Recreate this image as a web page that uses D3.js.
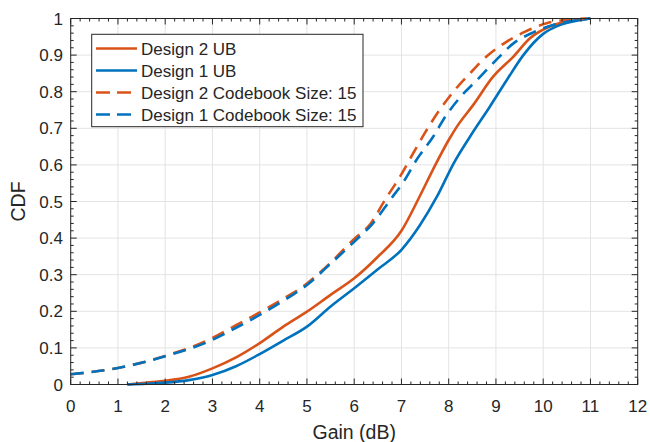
<!DOCTYPE html>
<html>
<head>
<meta charset="utf-8">
<script src="https://cdn.jsdelivr.net/npm/d3@7"></script>
<style>
body { margin: 0; background: #fff; }
svg text { font-family: "Liberation Sans", Arial, sans-serif; fill: #262626; }
</style>
</head>
<body>
<svg id="chart" width="650" height="442"></svg>
<script>
// tick labels
var xTicks = [0, 1, 2, 3, 4, 5, 6, 7, 8, 9, 10, 11, 12];
var yTicks = [0, 0.1, 0.2, 0.3, 0.4, 0.5, 0.6, 0.7, 0.8, 0.9, 1];

// Design 2 UB
var d2ubX = [1.2, 1.6, 2, 2.5, 3, 3.5, 4, 4.5, 5, 5.5, 6, 6.5, 7, 7.39, 7.67, 8, 8.17, 8.52, 8.94, 9.37, 9.72, 10.14, 10.63, 11];
var d2ubY = [0, 0.005, 0.01, 0.021, 0.044, 0.074, 0.113, 0.158, 0.199, 0.245, 0.29, 0.349, 0.42, 0.515, 0.588, 0.668, 0.704, 0.764, 0.841, 0.896, 0.946, 0.978, 0.994, 1];
// Design 1 UB
var d1ubX = [1.2, 1.6, 2, 2.5, 3, 3.5, 4, 4.5, 5, 5.5, 6, 6.5, 7, 7.39, 7.75, 8.1, 8.45, 8.87, 9.23, 9.58, 10, 10.35, 10.77, 11];
var d1ubY = [0, 0.002, 0.005, 0.012, 0.026, 0.05, 0.083, 0.12, 0.158, 0.213, 0.263, 0.315, 0.368, 0.435, 0.513, 0.603, 0.677, 0.759, 0.832, 0.9, 0.958, 0.982, 0.995, 1];
// Design 2 Codebook Size: 15
var d2cbX = [0, 1, 2, 3, 3.5, 4, 4.5, 5, 5.5, 6, 6.35, 6.65, 6.97, 7.25, 7.49, 7.78, 8.1, 8.45, 8.8, 9.23, 9.62, 10.07, 10.57, 10.9];
var d2cbY = [0.028, 0.045, 0.078, 0.127, 0.162, 0.197, 0.234, 0.276, 0.333, 0.398, 0.44, 0.504, 0.568, 0.632, 0.686, 0.745, 0.8, 0.85, 0.896, 0.937, 0.964, 0.987, 0.997, 1];
// Design 1 Codebook Size: 15
var d1cbX = [0, 1, 2, 3, 3.5, 4, 4.5, 5, 5.5, 6, 6.4, 6.76, 7.07, 7.32, 7.67, 7.93, 8.25, 8.6, 8.94, 9.37, 9.79, 10.21, 10.8, 11];
var d1cbY = [0.028, 0.045, 0.077, 0.122, 0.155, 0.19, 0.229, 0.272, 0.33, 0.39, 0.441, 0.504, 0.559, 0.614, 0.677, 0.732, 0.786, 0.832, 0.878, 0.932, 0.962, 0.982, 0.997, 1];

var names = ["Design 2 UB", "Design 1 UB", "Design 2 Codebook Size: 15", "Design 1 Codebook Size: 15"];
var colors = ["#D95319", "#0072BD", "#D95319", "#0072BD"];
var dashes = [null, null, "13,8", "13,8"];
var seriesX = [d2ubX, d1ubX, d2cbX, d1cbX];
var seriesY = [d2ubY, d1ubY, d2cbY, d1cbY];

// plot box (don't use "top" as a global name, it's window.top)
var pL = 70.7, pR = 637.7, pT = 18.5, pB = 384.5;
var svg = d3.select("#chart");
var x = d3.scaleLinear().domain([0, 12]).range([pL, pR]);
var y = d3.scaleLinear().domain([0, 1]).range([pB, pT]);

// grid
var grid = svg.append("g");
xTicks.forEach(function(t){
	grid.append("line").attr("x1", x(t)).attr("x2", x(t)).attr("y1", pT).attr("y2", pB)
		.attr("stroke", "#e3e3e3").attr("stroke-width", 1);
});
yTicks.forEach(function(t){
	grid.append("line").attr("x1", pL).attr("x2", pR).attr("y1", y(t)).attr("y2", y(t))
		.attr("stroke", "#e3e3e3").attr("stroke-width", 1);
});

// lines
var line = d3.line().curve(d3.curveMonotoneX);
for(var i=0; i<seriesX.length; i++){
	var pts = seriesX[i].map(function(v, j){ return [x(v), y(seriesY[i][j])]; });
	svg.append("path").attr("d", line(pts)).attr("fill", "none")
		.attr("stroke", colors[i]).attr("stroke-width", 2.6)
		.attr("stroke-dasharray", dashes[i]);
}

// axes (ticks inward, box on)
var xMinor = d3.range(0, 12.001, 0.2);
var yMinor = d3.range(0, 1.0001, 0.02);
var ax = svg.append("g").attr("stroke", "#262626").attr("stroke-width", 1);
ax.append("rect").attr("x", pL).attr("y", pT).attr("width", pR-pL).attr("height", pB-pT).attr("fill", "none");
xMinor.forEach(function(t, k){
	var len = (k % 5 == 0) ? 6 : 3;
	ax.append("line").attr("x1", x(t)).attr("x2", x(t)).attr("y1", pB).attr("y2", pB-len);
	ax.append("line").attr("x1", x(t)).attr("x2", x(t)).attr("y1", pT).attr("y2", pT+len);
});
yMinor.forEach(function(t, k){
	var len = (k % 5 == 0) ? 6 : 3;
	ax.append("line").attr("x1", pL).attr("x2", pL+len).attr("y1", y(t)).attr("y2", y(t));
	ax.append("line").attr("x1", pR).attr("x2", pR-len).attr("y1", y(t)).attr("y2", y(t));
});

// tick labels
xTicks.forEach(function(t){
	svg.append("text").attr("x", x(t)).attr("y", 412).attr("text-anchor", "middle")
		.attr("font-size", 17).text(t);
});
yTicks.forEach(function(t){
	svg.append("text").attr("x", 63).attr("y", y(t)+6).attr("text-anchor", "end")
		.attr("font-size", 17).text(t);
});

// axis labels
svg.append("text").attr("x", (pL+pR)/2).attr("y", 439).attr("text-anchor", "middle")
	.attr("font-size", 19.5).text("Gain (dB)");
svg.append("text").attr("transform", "translate(25," + ((pT+pB)/2) + ") rotate(-90)")
	.attr("text-anchor", "middle").attr("font-size", 19.5).text("CDF");

// legend
var lg = svg.append("g");
lg.append("rect").attr("x", 91.7).attr("y", 34.3).attr("width", 271.3).attr("height", 92.4)
	.attr("fill", "#fff").attr("stroke", "#262626").attr("stroke-width", 1);
var rowY = [48.5, 70.5, 92.5, 114.5];
for(var i=0; i<names.length; i++){
	lg.append("line").attr("x1", 96).attr("x2", 137).attr("y1", rowY[i]).attr("y2", rowY[i])
		.attr("stroke", colors[i]).attr("stroke-width", 2.6).attr("stroke-dasharray", dashes[i] ? "14,7" : null);
	lg.append("text").attr("x", 141).attr("y", rowY[i]+6).attr("font-size", 17).text(names[i]);
}
</script>
</body>
</html>
